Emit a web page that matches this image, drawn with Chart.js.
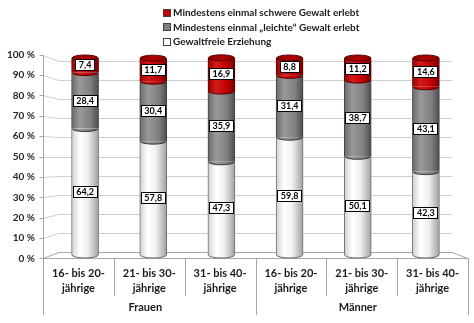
<!DOCTYPE html>
<html>
<head>
<meta charset="utf-8">
<script src="https://cdn.jsdelivr.net/npm/chart.js@4.4.1/dist/chart.umd.min.js"></script>
<style>
  html, body { margin: 0; padding: 0; background: #fff; }
</style>
</head>
<body>
<canvas id="miGrafica" width="474" height="323"></canvas>
<script>
// Datos del gráfico
const kategorien = [
    ['16- bis 20-', 'jährige'], ['21- bis 30-', 'jährige'], ['31- bis 40-', 'jährige'],
    ['16- bis 20-', 'jährige'], ['21- bis 30-', 'jährige'], ['31- bis 40-', 'jährige']
];
const gruppen = ['Frauen', 'Männer'];
const gewaltfrei = [64.2, 57.8, 47.3, 59.8, 50.1, 42.3];
const leichte = [28.4, 30.4, 35.9, 31.4, 38.7, 43.1];
const schwere = [7.4, 11.7, 16.9, 8.8, 11.2, 14.6];
const yTicks = [0, 10, 20, 30, 40, 50, 60, 70, 80, 90, 100];
const yTickLabels = ['0 %', '10 %', '20 %', '30 %', '40 %', '50 %', '60 %', '70 %', '80 %', '90 %', '100 %'];

const BREITE = 27;
const FONT = 'Lato, "Open Sans", sans-serif';

// Perspectiva: plano delantero / trasero respecto al plano de las barras
const VORNE_X = 1.039, VORNE_Y = 1.0355;
const HINTEN_X = 0.961, HINTEN_Y = 0.9645;

function zylinder(stops) {
    return function (context) {
        const chart = context.chart;
        const xs = chart.scales.x;
        if (!xs || context.dataIndex === undefined) return stops[1][1];
        const x = xs.getPixelForValue(context.dataIndex);
        if (!isFinite(x)) return stops[1][1];
        const g = chart.ctx.createLinearGradient(x - BREITE / 2, 0, x + BREITE / 2, 0);
        stops.forEach(s => g.addColorStop(s[0], s[1]));
        return g;
    };
}

const weissStops = [[0, '#d0d0d0'], [0.3, '#ffffff'], [0.6, '#f0f0f0'], [1, '#a0a0a0']];
const grauStops = [[0, '#6a6a6a'], [0.3, '#999999'], [0.7, '#808080'], [1, '#4c4c4c']];
const rotStops = [[0, '#9a0000'], [0.3, '#d41a1a'], [0.7, '#c00000'], [1, '#7a0000']];

const datasets = [
    {
        label: 'Gewaltfreie Erziehung',
        data: gewaltfrei,
        backgroundColor: zylinder(weissStops),
        borderColor: '#6e6e6e',
        stops: weissStops,
        linie: '#6a6a6a',
        legende: '#ffffff'
    },
    {
        label: 'Mindestens einmal \u201Eleichte\u201C Gewalt erlebt',
        data: leichte,
        backgroundColor: zylinder(grauStops),
        borderColor: '#404040',
        stops: grauStops,
        linie: '#3a3a3a',
        legende: '#808080'
    },
    {
        label: 'Mindestens einmal schwere Gewalt erlebt',
        data: schwere,
        backgroundColor: zylinder(rotStops),
        borderColor: '#5a0000',
        stops: rotStops,
        linie: '#5a0000',
        legende: '#c00000'
    }
];
datasets.forEach(ds => {
    ds.borderWidth = { left: 1, right: 1, top: 0, bottom: 0 };
    ds.barThickness = BREITE;
});

const px = v => Math.round(v) + 0.5;

// Marco 3D, ejes y etiquetas
const rahmen = {
    id: 'rahmen',
    beforeDatasetsDraw(chart) {
        const { ctx, chartArea: a, scales: { x, y } } = chart;
        const mx = (a.left + a.right) / 2, my = (a.top + a.bottom) / 2;
        const fx = v => mx + (v - mx) * VORNE_X;
        const fy = v => my + (v - my) * VORNE_Y;
        const bx = v => mx + (v - mx) * HINTEN_X;
        const by = v => my + (v - my) * HINTEN_Y;
        const l = a.left, r = a.right;

        ctx.save();
        ctx.lineWidth = 1;
        yTicks.forEach((t, i) => {
            const py = y.getPixelForValue(t);
            ctx.strokeStyle = t === 0 ? '#a6a6a6' : '#cfcfcf';
            ctx.beginPath();
            ctx.moveTo(fx(l), px(fy(py)));
            ctx.lineTo(bx(l), px(by(py)));
            ctx.lineTo(bx(r), px(by(py)));
            if (t === 0) ctx.lineTo(fx(r), px(fy(py)));
            ctx.stroke();

            // marca y etiqueta
            ctx.strokeStyle = '#a6a6a6';
            ctx.beginPath();
            ctx.moveTo(px(fx(l)) - 4, px(fy(py)));
            ctx.lineTo(px(fx(l)), px(fy(py)));
            ctx.stroke();
            ctx.fillStyle = '#262626';
            ctx.font = 'bold 10px ' + FONT;
            ctx.textAlign = 'right';
            ctx.textBaseline = 'middle';
            ctx.fillText(yTickLabels[i], fx(l) - 8, fy(py));
        });

        const y0 = px(fy(y.getPixelForValue(0)));
        const y100 = px(fy(y.getPixelForValue(100)));
        ctx.strokeStyle = '#a6a6a6';
        ctx.beginPath();
        ctx.moveTo(px(fx(l)), y100);
        ctx.lineTo(px(fx(l)), y0);
        ctx.lineTo(px(fx(r)), y0);
        ctx.stroke();

        // separadores del eje x
        const n = kategorien.length;
        const grenzen = [l];
        for (let k = 1; k < n; k++) grenzen.push((x.getPixelForValue(k - 1) + x.getPixelForValue(k)) / 2);
        grenzen.push(r);
        grenzen.forEach((g, k) => {
            const lang = (k === 0 || k === n || k === n / 2);
            ctx.beginPath();
            ctx.moveTo(px(fx(g)), y0);
            ctx.lineTo(px(fx(g)), lang ? 315 : 296);
            ctx.stroke();
        });

        ctx.fillStyle = '#1a1a1a';
        ctx.font = 'bold 11px ' + FONT;
        ctx.textAlign = 'center';
        kategorien.forEach((lbl, i) => {
            const cx = fx(x.getPixelForValue(i));
            ctx.fillText(lbl[0], cx, 273);
            ctx.fillText(lbl[1], cx, 288);
        });
        gruppen.forEach((g, j) => {
            const cx = (fx(grenzen[j * 3]) + fx(grenzen[j * 3 + 3])) / 2;
            ctx.fillText(g, cx - 4, 307);
        });
        ctx.restore();
    },
    afterDatasetsDraw(chart) {
        const ctx = chart.ctx;
        const ry = 3;
        ctx.save();
        ctx.lineWidth = 1;
        chart.data.datasets.forEach((ds, d) => {
            const meta = chart.getDatasetMeta(d);
            meta.data.forEach(bar => {
                if (!isFinite(bar.x) || !isFinite(bar.base)) return;
                const g = ctx.createLinearGradient(bar.x - BREITE / 2, 0, bar.x + BREITE / 2, 0);
                ds.stops.forEach(s => g.addColorStop(s[0], s[1]));
                const rx = BREITE / 2 - 0.5;
                // borde inferior curvo
                ctx.fillStyle = g;
                ctx.strokeStyle = ds.linie;
                ctx.beginPath();
                ctx.ellipse(bar.x, bar.base, rx, ry, 0, 0, Math.PI);
                ctx.fill();
                ctx.stroke();
                // tapa superior
                if (d === chart.data.datasets.length - 1) {
                    const t = ctx.createLinearGradient(bar.x - BREITE / 2, 0, bar.x + BREITE / 2, 0);
                    t.addColorStop(0, '#8a0000');
                    t.addColorStop(0.5, '#b00000');
                    t.addColorStop(1, '#8a0000');
                    ctx.fillStyle = t;
                    ctx.beginPath();
                    ctx.ellipse(bar.x, bar.y, rx, ry, 0, 0, Math.PI * 2);
                    ctx.fill();
                    ctx.stroke();
                }
            });
        });

        // etiquetas de datos
        ctx.font = 'bold 9px ' + FONT;
        ctx.textAlign = 'center';
        ctx.textBaseline = 'middle';
        chart.data.datasets.forEach((ds, d) => {
            const meta = chart.getDatasetMeta(d);
            meta.data.forEach((bar, i) => {
                const txt = ds.data[i].toFixed(1).replace('.', ',');
                const w = Math.round(ctx.measureText(txt).width) + 7;
                const h = 12;
                const cy = (bar.y + bar.base) / 2;
                const bx0 = Math.round(bar.x - w / 2), by0 = Math.round(cy - h / 2);
                ctx.fillStyle = '#ffffff';
                ctx.fillRect(bx0, by0, w, h);
                ctx.strokeStyle = '#000000';
                ctx.strokeRect(bx0 + 0.5, by0 + 0.5, w - 1, h - 1);
                ctx.fillStyle = '#000000';
                ctx.fillText(txt, bar.x, by0 + h / 2 + 0.5);
            });
        });
        ctx.restore();
    },
    afterDraw(chart) {
        // leyenda
        const ctx = chart.ctx;
        ctx.save();
        ctx.font = 'bold 10px ' + FONT;
        ctx.textAlign = 'left';
        ctx.textBaseline = 'middle';
        const reihen = chart.data.datasets.slice().reverse();
        reihen.forEach((ds, k) => {
            const cy = 13 + k * 14.3;
            ctx.fillStyle = ds.legende;
            ctx.fillRect(163, Math.round(cy - 4), 8, 8);
            ctx.strokeStyle = '#404040';
            ctx.strokeRect(163.5, Math.round(cy - 4) + 0.5, 7, 7);
            ctx.fillStyle = '#1a1a1a';
            ctx.fillText(ds.label, 173, cy);
        });
        ctx.restore();
    }
};

new Chart(document.getElementById('miGrafica').getContext('2d'), {
    type: 'bar',
    data: {
        labels: kategorien,
        datasets: datasets
    },
    options: {
        responsive: false,
        animation: false,
        layout: { padding: { left: 51, right: 14, top: 58, bottom: 68 } },
        plugins: {
            legend: { display: false },
            tooltip: { enabled: false }
        },
        scales: {
            x: { stacked: true, display: false },
            y: { stacked: true, display: false, min: 0, max: 100 }
        }
    },
    plugins: [rahmen]
});
</script>
</body>
</html>
